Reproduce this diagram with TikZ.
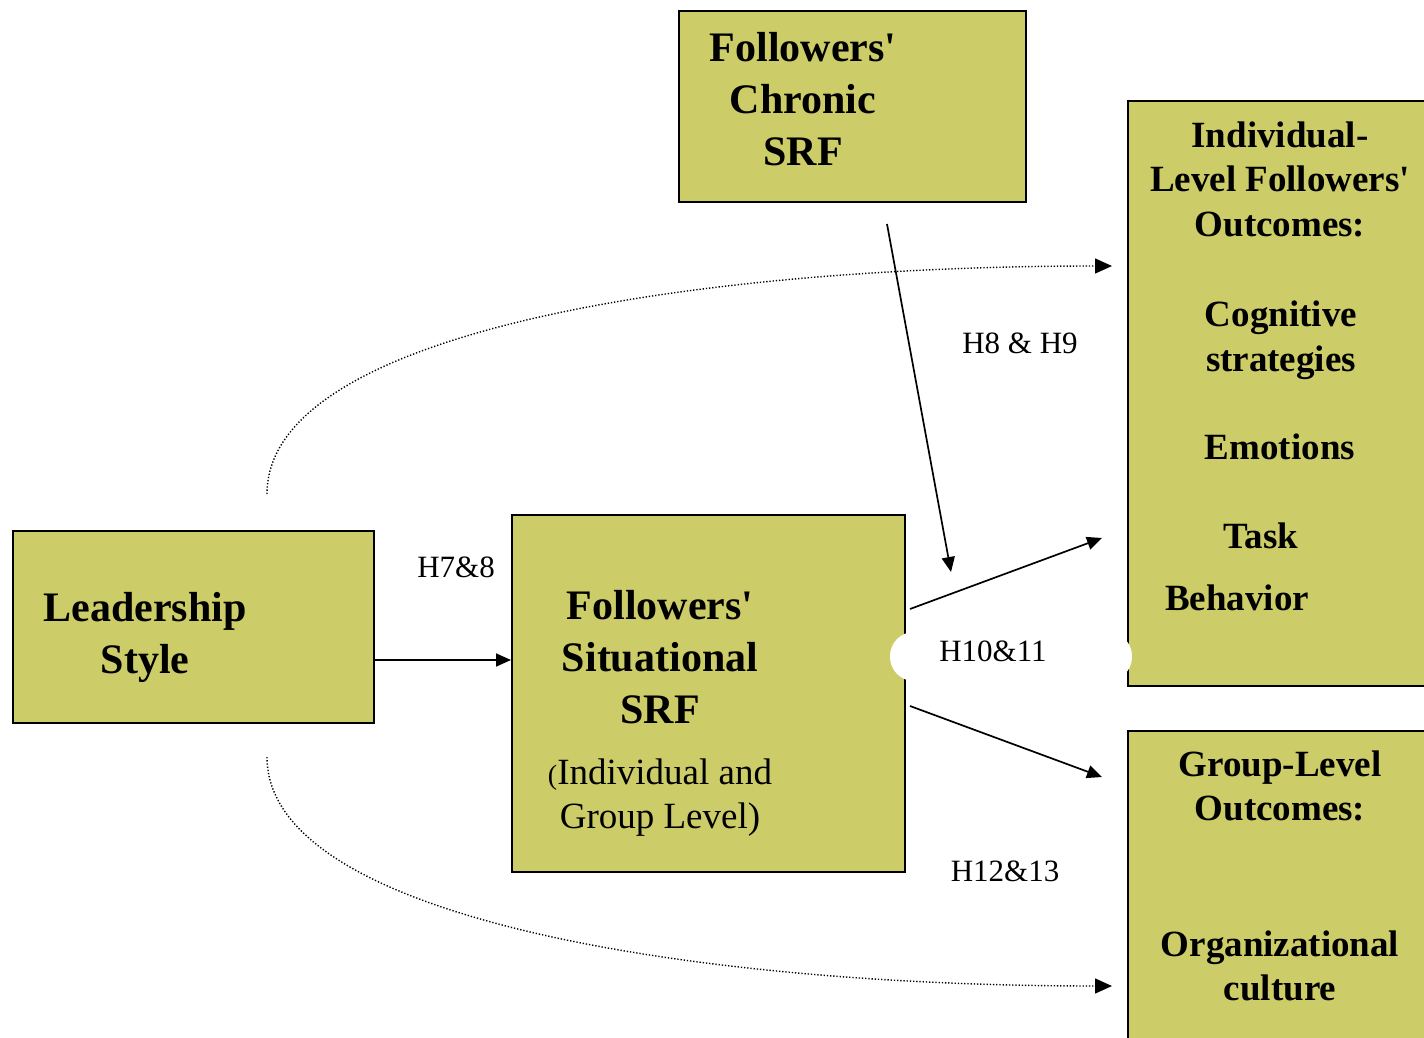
\documentclass[tikz,border=0pt]{standalone}
\usepackage{fontspec}
\setmainfont{Liberation Serif}
\usetikzlibrary{arrows.meta}
\definecolor{boxfill}{RGB}{204,204,104}
\begin{document}
\begin{tikzpicture}[x=1pt,y=-1pt,
  boxstyle/.style={draw=black, line width=2pt, fill=boxfill, inner sep=0pt, anchor=north west, rectangle},
  bigtext/.style={font=\fontsize{42}{52}\selectfont\bfseries, align=center, inner sep=0pt},
  midtext/.style={font=\fontsize{37}{44.5}\selectfont\bfseries, align=center, inner sep=0pt},
  regtext/.style={font=\fontsize{37}{44}\selectfont, align=center, inner sep=0pt},
  labtext/.style={font=\fontsize{31}{36}\selectfont, inner sep=0pt},
  solidarrow/.style={line width=1.7pt, -{Triangle[length=15pt,width=13pt]}},
  dotarrow/.style={line width=1.4pt, dash pattern=on 1.3pt off 1.9pt, -{Triangle[length=17pt,width=15pt]}}
]
\useasboundingbox (0,0) rectangle (1424,1038);
\clip (0,0) rectangle (1424,1038);

% boxes
\node[boxstyle, minimum width=361pt, minimum height=192pt] (lead) at (12,530) {};
\node[boxstyle, minimum width=347pt, minimum height=191pt] (chron) at (678,10) {};
\node[boxstyle, minimum width=393pt, minimum height=357pt] (sit) at (511,514) {};
\node[boxstyle, minimum width=350pt, minimum height=585pt] (ind) at (1127,100) {};
\node[boxstyle, minimum width=350pt, minimum height=400pt] (grp) at (1127,730) {};

% white blob behind H10&11
\node[fill=white, draw=none, rounded corners=24pt, minimum width=242pt, minimum height=49pt, inner sep=0pt] (blob) at (1011,656.5) {};

% texts in boxes
\node[bigtext] (leadtxt) at (145,637) {Leadership\\Style};
\node[bigtext] (chrontxt) at (803,99) {Followers\textquotesingle\\Chronic\\SRF};
\node[bigtext] (sittxt) at (660,657) {Followers\textquotesingle\\Situational\\SRF};
\node[regtext] (sitsub) at (660,798) {{\fontsize{28}{30}\selectfont(}Individual and\\Group Level)};
\node[midtext] (indhead) at (1280,179) {Individual-\\Level Followers\textquotesingle\\Outcomes:};
\node[midtext] (cog) at (1281,340) {Cognitive\\strategies};
\node[midtext] (emo) at (1280,447) {Emotions};
\node[midtext] (task) at (1261,536) {Task};
\node[midtext] (beh) at (1237,598) {Behavior};
\node[midtext] (grphead) at (1280,786) {Group-Level\\Outcomes:};
\node[midtext] (orgc) at (1280,966) {Organizational\\culture};

% labels
\node[labtext] (h89) at (1020,343) {H8 \& H9};
\node[labtext] (h78) at (456,567) {H7\&8};
\node[labtext] (h1011) at (993,651) {H10\&11};
\node[labtext] (h1213) at (1005,871) {H12\&13};

% coordinates for free ends
\coordinate (chronStart) at (887,224);
\coordinate (chronEnd) at (951,572);
\coordinate (sitUp) at (910,609);
\coordinate (indEnd) at (1102,538);
\coordinate (sitDown) at (910,706);
\coordinate (grpEnd) at (1102,777);
\coordinate (topStart) at (267,494);
\coordinate (topEnd) at (1112,266);
\coordinate (botStart) at (267,757);
\coordinate (botEnd) at (1112,986);

% connectors
\draw[solidarrow] (lead.east |- 0,660) -- (sit.west |- 0,660);
\draw[solidarrow] (chronStart) -- (chronEnd);
\draw[solidarrow] (sitUp) -- (indEnd);
\draw[solidarrow] (sitDown) -- (grpEnd);
\draw[dotarrow] (topStart) .. controls (267,330) and (700,266) .. (topEnd);
\draw[dotarrow] (botStart) .. controls (267,920) and (700,986) .. (botEnd);
\end{tikzpicture}
\end{document}
